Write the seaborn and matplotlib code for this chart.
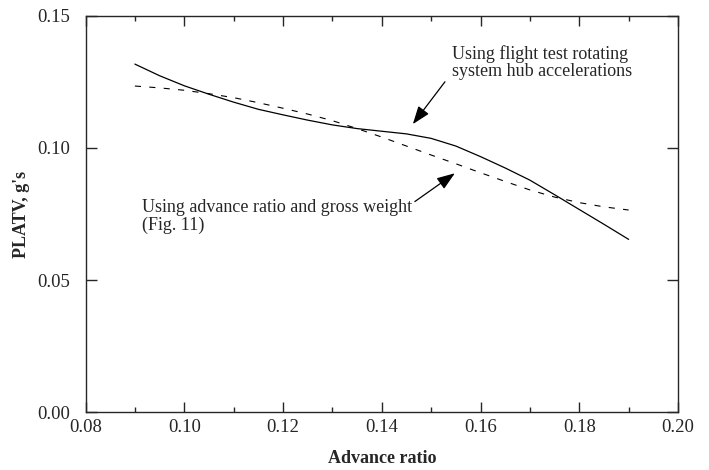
#Recreating the PLATV vs advance ratio chart with seaborn
import pandas as pd
import matplotlib
matplotlib.use("Agg")
from matplotlib import pyplot as plt
from matplotlib.ticker import MultipleLocator
import seaborn as sns

# flight test rotating system hub accelerations (solid)
mu_hub = [0.090, 0.095, 0.100, 0.105, 0.110, 0.115, 0.120, 0.125, 0.130,
          0.135, 0.140, 0.145, 0.150, 0.155, 0.160, 0.165, 0.170, 0.175,
          0.180, 0.185, 0.190]
platv_hub = [0.1317, 0.1273, 0.1235, 0.1203, 0.1173, 0.1146, 0.1125, 0.1105,
             0.1087, 0.1073, 0.1063, 0.1053, 0.1036, 0.1007, 0.0967, 0.0924,
             0.0878, 0.0823, 0.0767, 0.0711, 0.0654]

# advance ratio and gross weight, Fig. 11 (dashed)
mu_gw = [0.090, 0.095, 0.100, 0.105, 0.110, 0.115, 0.120, 0.125, 0.130,
         0.135, 0.140, 0.145, 0.150, 0.155, 0.160, 0.165, 0.170, 0.175,
         0.180, 0.185, 0.190]
platv_gw = [0.1234, 0.1227, 0.1218, 0.1205, 0.1190, 0.1171, 0.1150, 0.1128,
            0.1103, 0.1073, 0.1041, 0.1007, 0.0973, 0.0940, 0.0906, 0.0873,
            0.0841, 0.0814, 0.0793, 0.0777, 0.0765]

hub = pd.DataFrame({'mu': mu_hub, 'platv': platv_hub})
gw = pd.DataFrame({'mu': mu_gw, 'platv': platv_gw})

sns.set_style("ticks")
plt.rcParams['font.family'] = ['Liberation Serif', 'DejaVu Serif']

fig = plt.figure(figsize=(7.09, 4.70), dpi=100)
ax = fig.add_axes([0.1206, 0.1228, 0.9563 - 0.1206, 0.9666 - 0.1228])

sns.lineplot(data=hub, x='mu', y='platv', ax=ax, color='black', lw=0.9)
sns.lineplot(data=gw, x='mu', y='platv', ax=ax, color='black', lw=0.8,
             linestyle=(0, (5.5, 7.5)))

ax.set_xlim(0.08, 0.20)
ax.set_ylim(0.0, 0.15)
ax.xaxis.set_major_locator(MultipleLocator(0.02))
ax.xaxis.set_minor_locator(MultipleLocator(0.01))
ax.set_xticklabels([f"{v:.2f}" for v in ax.get_xticks()])
ax.set_yticks([0.0, 0.05, 0.10, 0.15])
ax.set_yticklabels(["0.00", "0.05", "0.10", "0.15"])

for s in ax.spines.values():
    s.set_linewidth(1.0)
    s.set_visible(True)
ax.tick_params(axis='x', which='both', direction='in', top=True, bottom=True,
               labelsize=13.5, pad=5, width=1.0)
ax.tick_params(axis='x', which='major', length=7)
ax.tick_params(axis='x', which='minor', length=3.5)
ax.tick_params(axis='y', which='major', direction='in', left=True, right=True,
               length=8, width=1.0, labelsize=13.5, pad=11)

ax.set_xlabel("Advance ratio", fontsize=13, fontweight='bold', labelpad=10)
ax.set_ylabel("PLATV, g's", fontsize=13, fontweight='bold', labelpad=5)

arrow = dict(arrowstyle='-|>,head_length=1.1,head_width=0.4', color='black',
             lw=0.9, shrinkA=0, shrinkB=0)
ax.annotate("", xy=(0.1463, 0.1090), xytext=(0.1528, 0.1250), arrowprops=arrow)
ax.annotate("", xy=(0.1548, 0.0904), xytext=(0.1467, 0.0797), arrowprops=arrow)

ax.text(0.1542, 0.1323, "Using flight test rotating\nsystem hub accelerations",
        ha='left', va='center', fontsize=13, linespacing=1.0)
ax.text(0.0914, 0.0741, "Using advance ratio and gross weight\n(Fig. 11)",
        ha='left', va='center', fontsize=13, linespacing=1.0)

fig.savefig("out.png", dpi=100)
